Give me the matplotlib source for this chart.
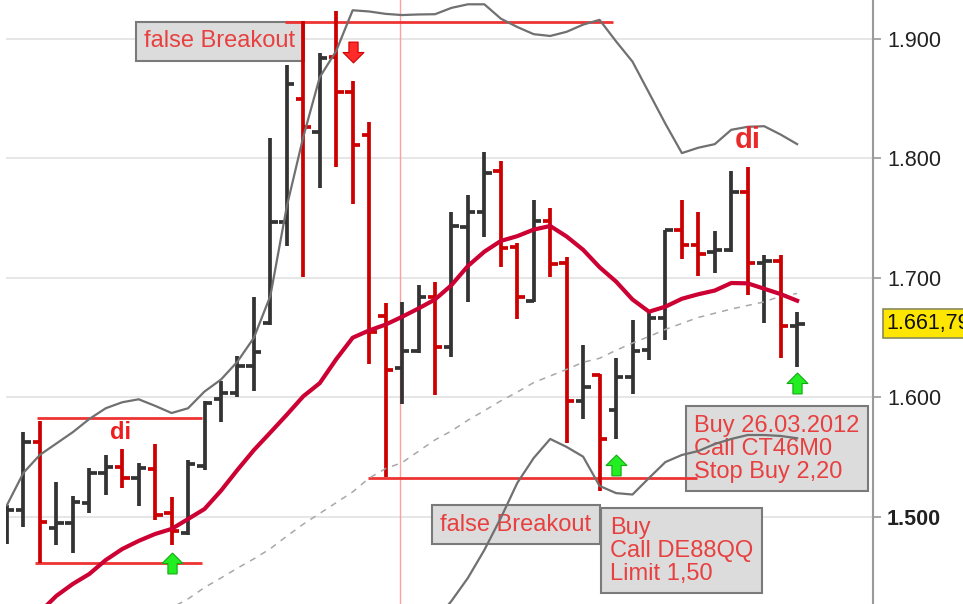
import numpy as np
import matplotlib
matplotlib.use("Agg")
import matplotlib.pyplot as plt
from matplotlib.path import Path
from matplotlib.transforms import blended_transform_factory

# daily OHLC bars
opens = [1.490, 1.5055, 1.563, 1.4905, 1.4947, 1.512, 1.5366, 1.542, 1.5324, 1.540,
         1.503, 1.487, 1.5426, 1.599, 1.604, 1.6265, 1.662, 1.7465, 1.8495, 1.8225,
         1.885, 1.8555, 1.8194, 1.668, 1.6248, 1.6392, 1.6844, 1.6425, 1.7424, 1.7555,
         1.7896, 1.726, 1.681, 1.748, 1.7122, 1.5974, 1.6184, 1.5894, 1.6174, 1.6397,
         1.6663, 1.7402, 1.7276, 1.722, 1.723, 1.7723, 1.7128, 1.7142, 1.6598]
highs = [1.510, 1.5715, 1.580, 1.5295, 1.5176, 1.5407, 1.5519, 1.5567, 1.5455, 1.5608,
         1.5165, 1.5475, 1.5974, 1.6135, 1.6345, 1.6845, 1.8168, 1.8785, 1.9152, 1.888,
         1.923, 1.8645, 1.8303, 1.6787, 1.6803, 1.6945, 1.697, 1.7555, 1.7695, 1.8057,
         1.798, 1.7291, 1.7653, 1.7583, 1.7174, 1.6442, 1.6194, 1.6329, 1.6645, 1.6705,
         1.7405, 1.7653, 1.755, 1.7393, 1.7898, 1.7926, 1.7192, 1.7192, 1.6718]
lows = [1.477, 1.492, 1.4613, 1.4766, 1.4696, 1.5031, 1.5184, 1.524, 1.5092, 1.4975,
        1.4766, 1.4847, 1.5394, 1.5797, 1.6006, 1.6055, 1.6603, 1.7265, 1.7006, 1.775,
        1.7926, 1.762, 1.628, 1.5335, 1.5948, 1.637, 1.6021, 1.6342, 1.6802, 1.7346,
        1.709, 1.6655, 1.6802, 1.7011, 1.562, 1.5819, 1.5216, 1.5652, 1.6032, 1.6314,
        1.6481, 1.7157, 1.7017, 1.7039, 1.722, 1.6858, 1.6621, 1.6328, 1.6258]
closes = [1.5055, 1.563, 1.496, 1.4947, 1.5129, 1.5366, 1.542, 1.5324, 1.5407, 1.502,
          1.488, 1.544, 1.5958, 1.604, 1.6265, 1.638, 1.7465, 1.8626, 1.826, 1.8838,
          1.8555, 1.811, 1.655, 1.6232, 1.6387, 1.6844, 1.6425, 1.7435, 1.7555, 1.7882,
          1.7255, 1.6844, 1.748, 1.7117, 1.5974, 1.6087, 1.5652, 1.6174, 1.6387, 1.6663,
          1.7402, 1.7276, 1.7201, 1.7234, 1.7723, 1.7123, 1.7142, 1.6598, 1.66179]

# indicators
moving_avg = [None, None, 1.4205, 1.434, 1.444, 1.4523, 1.464, 1.4732, 1.48, 1.4858,
              1.49, 1.4983, 1.5067, 1.522, 1.5394, 1.556, 1.5707, 1.5856, 1.601, 1.612,
              1.632, 1.650, 1.6561, 1.661, 1.6675, 1.6745, 1.682, 1.694, 1.710, 1.722,
              1.731, 1.735, 1.7405, 1.7435, 1.7347, 1.7236, 1.709, 1.697, 1.682, 1.6718,
              1.676, 1.6826, 1.6864, 1.6895, 1.6958, 1.6955, 1.691, 1.6865, 1.681]
band_upper = [1.510, 1.537, 1.552, 1.5615, 1.571, 1.582, 1.591, 1.596, 1.5985, 1.593,
              1.587, 1.591, 1.605, 1.615, 1.630, 1.650, 1.685, 1.760, 1.818, 1.868,
              1.890, 1.924, 1.923, 1.921, 1.920, 1.9205, 1.9207, 1.926, 1.929, 1.929,
              1.917, 1.910, 1.904, 1.9025, 1.906, 1.912, 1.916, 1.898, 1.881, 1.855,
              1.829, 1.8045, 1.809, 1.812, 1.824, 1.8265, 1.827, 1.820, 1.812]
band_lower = [None] * 25 + [1.395, 1.413, 1.4297, 1.449, 1.4724, 1.4992, 1.5285, 1.5494,
                            1.5653, 1.5586, 1.5505, 1.526, 1.520, 1.5188, 1.5326, 1.546,
                            1.5519, 1.5552, 1.5611, 1.5653, 1.5686, 1.5686, 1.5678, 1.5659]
slow_avg = [None] * 10 + [1.424, 1.4315, 1.441, 1.449, 1.4572, 1.465, 1.4735, 1.484,
                          1.494, 1.503, 1.512, 1.521, 1.5325, 1.5405, 1.5455, 1.555,
                          1.5645, 1.572, 1.581, 1.589, 1.5972, 1.6045, 1.6125, 1.618,
                          1.6235, 1.6295, 1.6328, 1.6395, 1.6455, 1.651, 1.657, 1.662,
                          1.667, 1.6705, 1.674, 1.677, 1.680, 1.6848, 1.687]

y_ticks = [1.5, 1.6, 1.7, 1.8, 1.9]
y_labels = ["1.500", "1.600", "1.700", "1.800", "1.900"]
last_label = "1.661,79"

buy_arrows = [(10, 1.4615), (37, 1.5435), (48, 1.612)]
sell_arrows = [(21, 1.889)]

plt.rcParams["font.family"] = ["Liberation Sans", "DejaVu Sans"]

RED_BAR = "#cc0000"
DARK_BAR = "#333333"
LINE_RED = "#ee3333"
TXT_RED = "#e84040"

o = np.array(opens)
h = np.array(highs)
l = np.array(lows)
c = np.array(closes)
idx = np.arange(len(o))
cols = [RED_BAR if cc < oo else DARK_BAR for oo, cc in zip(o, c)]

fig = plt.figure(figsize=(9.63, 6.04), dpi=100)
ax = fig.add_axes([6 / 963, 0, 867 / 963, 1])
ax.set_xlim(-0.06, 52.61)
ax.set_ylim(1.4272, 1.9326)

# grid
for t in y_ticks:
    ax.axhline(t, color="#e6e6e6", lw=1.4, zorder=0)

# text boxes
box = dict(boxstyle="square,pad=0.36", fc="#dcdcdc", ec="#7a7a7a", lw=1.5)
ax.text(12.94, 1.898, "false Breakout", color=TXT_RED, fontsize=17,
        ha="center", va="center", bbox=box, zorder=2)
ax.text(30.92, 1.4937, "false Breakout", color=TXT_RED, fontsize=17,
        ha="center", va="center", bbox=box, zorder=2)
ax.text(36.63, 1.4717, "Buy\nCall DE88QQ\nLimit 1,50", color=TXT_RED, fontsize=17,
        ha="left", va="center", linespacing=1.06, bbox=box, zorder=2)
ax.text(41.74, 1.557, "Buy 26.03.2012\nCall CT46M0\nStop Buy 2,20", color=TXT_RED,
        fontsize=17, ha="left", va="center", linespacing=1.06, bbox=box, zorder=2)

# marker lines
ax.axvline(23.88, color="#ff9f9f", lw=1, zorder=1)
ax.hlines(1.583, 1.82, 11.85, color=LINE_RED, lw=2, zorder=3)
ax.hlines(1.4613, 1.7, 11.85, color=LINE_RED, lw=2, zorder=3)
ax.hlines(1.9138, 16.89, 36.82, color=LINE_RED, lw=2, zorder=3)
ax.hlines(1.5329, 21.93, 41.9, color=LINE_RED, lw=2, zorder=3)

# OHLC bars
ax.vlines(idx, l, h, colors=cols, lw=2.7, zorder=3)
ax.hlines(o, idx - 0.45, idx, colors=cols, lw=2.7, zorder=3)
ax.hlines(c, idx, idx + 0.45, colors=cols, lw=2.7, zorder=3)

# indicator lines
ax.plot(idx, np.array(band_upper, dtype=float), color="#707070", lw=1.6, zorder=4)
ax.plot(idx, np.array(band_lower, dtype=float), color="#707070", lw=1.6, zorder=4)
ax.plot(idx, np.array(slow_avg, dtype=float), color="#a8a8a8", lw=1.1,
        ls=(0, (4, 4)), zorder=4)
ax.plot(idx, np.array(moving_avg, dtype=float), color="#cc0033", lw=3, zorder=5)

# signal arrows
up = Path([(-0.5, 0.0), (0, 0.5), (0.5, 0.0), (0.22, 0.0), (0.22, -0.5),
           (-0.22, -0.5), (-0.22, 0.0), (-0.5, 0.0)],
          [Path.MOVETO] + [Path.LINETO] * 6 + [Path.CLOSEPOLY])
down = Path(up.vertices * [1, -1], up.codes)
for xi, yv in buy_arrows:
    ax.plot(xi, yv, marker=up, ms=15, mfc="#22ee22", mec="#11aa11", mew=0.8, zorder=6)
for xi, yv in sell_arrows:
    ax.plot(xi, yv, marker=down, ms=15, mfc="#ff2a2a", mec="#cc0000", mew=0.8, zorder=6)

ax.text(6.87, 1.5711, "di", color="#ee1c1c", fontsize=17, fontweight="bold",
        ha="center", va="center", zorder=6)
ax.text(45.0, 1.8155, "di", color="#e82a2a", fontsize=21, fontweight="bold",
        ha="center", va="center", zorder=6)

# axis
for s in ["top", "left", "bottom"]:
    ax.spines[s].set_visible(False)
ax.spines["right"].set_color("#9a9a9a")
ax.spines["right"].set_linewidth(1.5)
ax.set_xticks([])
ax.yaxis.tick_right()
ax.set_yticks(y_ticks)
ax.set_yticklabels(y_labels)
ax.tick_params(axis="y", direction="out", length=6, width=1.2, color="#9a9a9a",
               labelsize=15.5, pad=4, labelcolor="#222222")
ax.get_yticklabels()[0].set_fontweight("bold")

trans = blended_transform_factory(ax.transAxes, ax.transData)
ax.text(1.0155, c[-1], last_label, transform=trans, fontsize=15.5, color="#111111",
        ha="left", va="center",
        bbox=dict(boxstyle="square,pad=0.18", fc="#ffe600", ec="#8a8a5a", lw=1.2))

fig.savefig("out.png", dpi=100, facecolor="white")
